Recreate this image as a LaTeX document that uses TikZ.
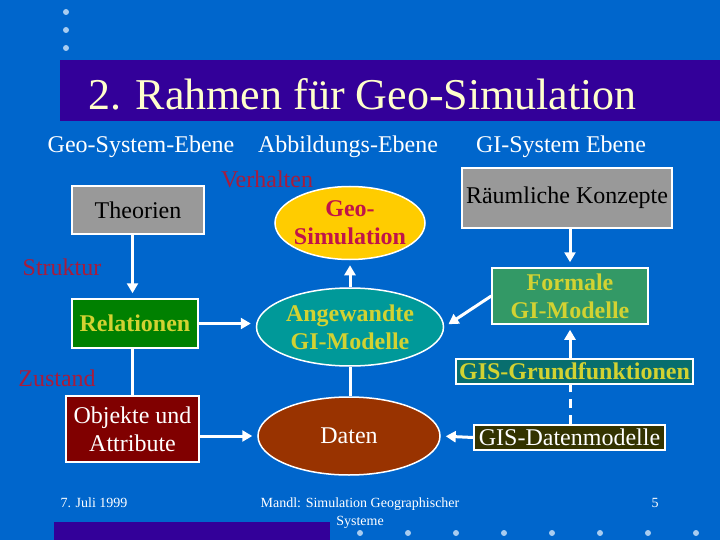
\documentclass[tikz,border=0pt]{standalone}
\usepackage{fontspec}
\setmainfont{Liberation Serif}
\usepackage{tikz}
\usetikzlibrary{arrows.meta}
\usetikzlibrary{shapes.geometric}

\definecolor{slideblue}{HTML}{0066CC}
\definecolor{bandpurple}{HTML}{330099}
\definecolor{titlecream}{HTML}{FFFFCC}
\definecolor{dotblue}{HTML}{A8CCF0}
\definecolor{labelred}{HTML}{A81C3C}
\definecolor{simred}{HTML}{C0144A}
\definecolor{textyellow}{HTML}{D2D232}
\definecolor{boxgray}{HTML}{999999}
\definecolor{relgreen}{HTML}{008000}
\definecolor{formgreen}{HTML}{339966}
\definecolor{angteal}{HTML}{009999}
\definecolor{functeal}{HTML}{086E6E}
\definecolor{datolive}{HTML}{333300}
\definecolor{objred}{HTML}{800000}
\definecolor{datbrown}{HTML}{993300}
\definecolor{simgold}{HTML}{FFCC00}

\begin{document}
\begin{tikzpicture}[x=1pt, y=-1pt,
    box/.style={draw=white, line width=1.5pt, inner sep=0pt, align=center,
        font=\fontsize{24}{28}\selectfont},
    oval/.style={ellipse, draw=white, line width=1.5pt, inner sep=-20pt, align=center,
        font=\fontsize{24}{28}\selectfont},
    flow/.style={white, line width=3pt, -{Triangle[length=10pt,width=11pt]}, shorten >=5pt},
    link/.style={white, line width=3pt},
    level/.style={white, font=\fontsize{24}{28}\selectfont},
    aspect/.style={labelred, font=\fontsize{24}{28}\selectfont},
    foot/.style={white, align=center, font=\fontsize{14}{18}\selectfont}]
    \useasboundingbox (0,0) rectangle (720,540);
    \fill[slideblue] (0,0) rectangle (720,540);
    % title band
    \foreach \y in {12,30,48}
        \fill[dotblue] (66,\y) circle (3);
    \fill[bandpurple] (60,60) rectangle (720,121);
    \node[anchor=base west, inner sep=0pt, titlecream, font=\fontsize{44}{50}\selectfont] (title) at (88,110) {2. Rahmen für Geo-Simulation};

    % levels
    \node[level] (hdrgeo) at (141,147) {Geo-System-Ebene};
    \node[level] (hdrabb) at (348,147) {Abbildungs-Ebene};
    \node[level] (hdrgis) at (561,147) {GI-System Ebene};
    \node[aspect] (verh) at (267,179) {Verhalten};
    \node[aspect] (strukt) at (62,267) {Struktur};
    \node[aspect] (zust) at (57,378) {Zustand};

    % geo-system level
    \node[box, fill=boxgray, minimum width=132, minimum height=48] (theo) at (138,210) {Theorien};
    \node[box, fill=relgreen, text=textyellow, font=\fontsize{24}{28}\selectfont\bfseries,
        minimum width=126, minimum height=49] (rel) at (135,323.5) {Relationen};
    \node[box, fill=objred, text=white, minimum width=133, minimum height=66] (obj) at (132.5,429) {Objekte und\\Attribute};

    % mapping level
    \node[oval, fill=simgold, text=simred, font=\fontsize{24}{28}\selectfont\bfseries,
        minimum width=150, minimum height=73] (geosim) at (350,223) {Geo-\\Simulation};
    \node[oval, fill=angteal, text=textyellow, font=\fontsize{24}{28}\selectfont\bfseries,
        minimum width=187, minimum height=78] (angew) at (350,327) {Angewandte\\GI-Modelle};
    \node[oval, fill=datbrown, text=white, minimum width=182, minimum height=78] (daten) at (349,436) {Daten};

    % gi-system level
    \node[box, fill=boxgray, minimum width=210, minimum height=60] (raum) at (567,198) {Räumliche Konzepte};
    \node[box, fill=formgreen, text=textyellow, font=\fontsize{24}{28}\selectfont\bfseries,
        minimum width=156, minimum height=56] (forml) at (570,296) {Formale\\GI-Modelle};
    \node[box, fill=functeal, text=textyellow, font=\fontsize{24}{28}\selectfont\bfseries,
        minimum width=237, minimum height=25] (gisg) at (574.5,371.5) {GIS-Grundfunktionen};
    \node[box, fill=datolive, text=white, minimum width=191, minimum height=25] (gisd) at (569.5,437.5) {GIS-Datenmodelle};

    % connectors
    \draw[flow] (theo.south -| obj) -- (rel.north -| obj);
    \draw[link] (rel.south -| obj) -- (obj.north);
    \draw[flow] (rel.east) -- (rel.east -| angew.west);
    \draw[flow] (obj.east |- daten) -- (daten.west);
    \draw[flow] (angew.north) -- (geosim.south);
    \draw[link] (angew.south) -- (angew.south |- daten.north);
    \draw[flow] (raum.south -| forml) -- (forml.north);
    \draw[flow] (forml.west) -- (angew.east);
    \draw[flow] (gisg.north -| forml) -- (forml.south);
    \draw[link, dash pattern=on 9pt off 7pt] (gisd.north -| forml) -- (gisg.south -| forml);
    \draw[flow] (gisd.west) -- (daten.east);

    % footer
    \fill[bandpurple] (54,522) rectangle (330,540);
    \foreach \x in {360,408,...,696}
        \fill[dotblue] (\x,533) circle (3);
    \node[foot] (date) at (94,503) {7. Juli 1999};
    \node[foot, anchor=north] (author) at (360,494) {Mandl: Simulation Geographischer\\Systeme};
    \node[foot] (page) at (655,503) {5};
\end{tikzpicture}
\end{document}
